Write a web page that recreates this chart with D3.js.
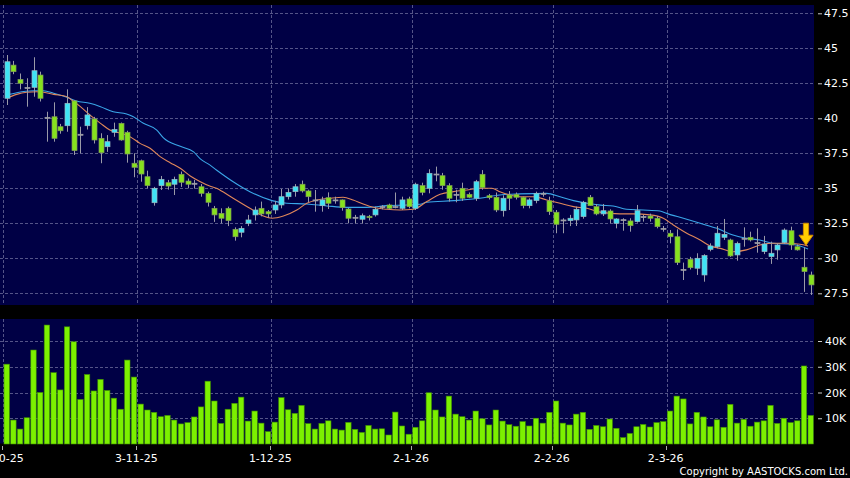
<!DOCTYPE html>
<html><head><meta charset="utf-8">
<script src="https://cdn.jsdelivr.net/npm/d3@7"></script>
<style>html,body{margin:0;padding:0;background:#000;overflow:hidden}svg{display:block}</style>
</head><body>
<svg id="chart" width="850" height="478"></svg>
<script>
// ---- data ----
const openP  = [41.43,43.8,42.78,42.2,42.21,43.09,40.07,40.11,39.4,39.47,41.24,38.86,39.47,39.95,38.57,37.97,39.0,39.64,39.0,36.79,
36.97,35.83,33.97,35.19,35.4,35.29,36.0,35.52,35.36,35.11,34.64,33.57,33.21,33.57,32.07,31.86,32.5,33.1,33.57,33.33,
33.45,33.81,34.4,34.76,35.29,34.81,34.17,33.76,34.33,34.17,34.17,33.52,32.93,32.79,33.0,33.1,33.69,33.81,33.69,33.57,
34.24,33.57,35.19,35.0,36.02,35.9,35.19,34.57,35.0,34.57,34.29,36.0,34.47,34.36,33.4,34.52,34.57,34.36,33.76,34.12,
34.64,34.1,33.29,32.74,32.69,32.74,32.98,34.36,33.69,33.17,33.38,32.5,32.76,32.67,32.62,32.98,33.02,32.86,32.14,31.79,
31.54,29.21,29.93,29.29,28.81,30.64,30.83,31.5,31.31,30.24,31.43,31.5,31.12,30.48,30.12,30.6,31.12,31.97,30.83,29.36,28.81];
const highP  = [44.52,44.1,43.2,42.86,44.36,43.33,40.47,41.14,39.6,42.07,41.3,39.4,40.8,40.1,38.93,38.8,39.69,39.7,39.11,37.5,
37.05,36.26,35.1,35.88,35.6,35.83,36.2,35.7,35.6,35.3,34.76,33.74,33.57,33.69,32.21,32.3,33.1,33.7,34.05,33.45,
34.1,34.95,35.0,35.3,35.55,34.9,34.88,34.4,34.71,34.4,34.2,33.6,33.1,33.2,33.1,33.69,33.8,33.9,34.7,34.4,
34.4,35.4,35.4,36.36,36.55,36.1,35.36,34.9,35.4,34.7,35.6,36.3,34.6,34.7,34.5,34.8,34.7,34.4,34.29,34.76,
34.76,34.4,33.45,32.86,33.1,33.69,34.1,34.52,33.88,33.88,33.5,32.86,32.86,32.86,33.81,33.1,33.19,33.02,32.31,32.02,
32.07,29.69,30.1,30.36,30.29,31.07,32.31,32.81,31.4,31.19,32.21,31.9,32.14,31.6,31.19,31.07,32.14,32.26,30.99,30.79,29.05];
const lowP   = [40.95,43.15,42.07,40.83,41.54,41.2,38.33,38.33,38.9,39.04,37.38,37.5,39.2,38.2,36.79,37.6,38.68,38.4,36.83,35.79,
35.47,35.0,33.76,34.88,34.9,34.52,35.1,35.0,34.98,34.4,33.7,32.6,32.5,32.3,31.26,31.5,32.3,32.7,33.0,32.9,
33.17,33.57,34.2,34.4,34.7,34.0,33.33,33.33,33.52,33.9,33.4,32.5,32.5,32.5,32.7,32.98,33.5,33.5,33.57,33.45,
33.57,33.45,34.5,34.64,35.5,34.9,34.05,34.0,34.1,34.3,34.1,34.9,34.2,33.3,32.98,33.45,34.2,33.57,33.57,33.93,
34.4,33.1,31.79,31.79,32.3,32.31,32.83,33.76,33.07,33.02,32.5,32.14,31.97,31.9,32.55,32.62,32.62,32.14,31.9,31.07,
29.52,28.45,29.2,28.81,28.33,30.5,30.71,31.31,30.1,29.83,30.83,31.2,30.4,30.3,29.6,29.9,31.02,30.6,30.55,27.6,27.38];
const closeP = [44.04,43.33,42.5,42.2,43.4,41.43,40.07,38.57,39.11,41.07,37.69,38.86,40.24,38.45,37.54,38.33,39.2,38.45,37.45,36.5,
36.02,35.19,35.0,35.64,35.16,35.64,35.43,35.29,35.36,34.64,34.0,33.1,32.86,32.69,31.54,32.14,32.74,33.45,33.17,33.17,
33.81,34.4,34.71,35.11,34.81,34.4,34.17,34.17,33.93,34.17,33.62,32.86,32.93,33.04,32.9,33.5,33.69,33.57,33.69,34.17,
33.69,35.29,34.71,36.07,36.02,35.19,34.29,34.57,34.29,34.36,35.47,35.05,34.33,33.45,34.29,34.29,34.36,33.76,34.17,34.64,
34.64,33.33,32.43,32.74,32.86,33.5,34.0,33.76,33.17,33.4,32.81,32.81,32.76,32.33,33.4,32.98,32.86,32.26,32.14,31.54,
29.69,29.21,29.33,30.0,30.19,30.88,31.79,31.71,30.17,31.07,31.43,31.31,31.12,31.02,30.36,30.95,32.02,30.95,30.6,29.05,28.1];
const volumeK = [31.0,9.3,5.8,10.2,36.5,20.0,46.2,27.7,21.0,45.5,39.7,17.3,27.0,20.6,25.1,20.8,17.8,13.5,32.6,26.0,
15.5,13.2,12.3,10.6,11.1,9.3,7.8,8.3,10.5,14.4,24.4,16.7,8.0,13.5,15.8,18.2,8.9,12.8,8.1,4.8,
8.5,18.0,13.3,11.9,15.0,7.9,5.8,8.0,9.0,5.8,5.4,8.4,5.7,4.5,7.2,5.8,5.9,3.5,12.4,7.0,
3.8,6.5,9.0,19.9,13.2,10.5,18.6,11.6,10.6,9.3,12.8,9.8,7.4,13.2,8.9,7.5,6.9,8.7,7.0,10.0,
8.1,12.3,16.7,8.1,7.4,11.6,12.3,5.7,7.2,6.7,9.7,6.1,2.5,4.1,6.7,7.6,6.6,8.3,8.7,12.8,
18.6,17.5,7.8,12.3,10.5,6.7,9.4,6.5,15.4,8.1,9.6,6.9,8.5,9.0,15.0,8.0,10.0,8.3,9.0,30.3,11.1];
// moving averages: [bar index, value]
const maShort = [[0,41.43],[1.5,41.71],[3,41.86],[4.5,41.9],[5.5,41.86],[7,41.71],[9,41.54],[9.7,41.31],[11,40.83],[12.4,40.24],
[14,39.64],[15.4,39.16],[17,38.93],[18.4,38.69],[19.9,38.21],[21.4,37.86],[22.9,37.26],[24.4,36.83],[25.9,36.43],[27.4,35.88],
[28.9,35.47],[30.3,35.16],[31.3,35.0],[31.8,34.88],[33.8,34.29],[36.3,33.57],[38.3,33.02],[39.6,32.86],[41.3,33.02],[43.3,33.45],
[44.8,33.93],[46.3,34.17],[48.3,34.29],[50.2,34.36],[51.7,34.17],[53.2,33.88],[54.7,33.64],[56.7,33.5],[58.7,33.45],[60.7,33.5],
[62.7,34.05],[64.7,34.57],[66.7,34.76],[68.7,34.88],[70.6,35.0],[72.4,35.0],[73.6,34.76],[75.1,34.52],[76.6,34.4],[78.6,34.4],
[80.6,34.17],[82.6,33.93],[84.6,33.69],[86.6,33.57],[88.6,33.3],[91.5,33.17],[93.5,33.17],[96,33.1],[98,32.86],[99.5,32.38],
[101.5,31.79],[103.5,31.31],[105,30.88],[106.5,30.71],[108.4,30.47],[110.4,30.6],[112.4,30.95],[114.4,31.07],[116.4,31.07],[118.4,31.0],[119.6,30.88]];
const maLong = [[0,41.66],[1.5,41.83],[4,41.97],[5.5,41.97],[7,41.79],[9,41.5],[10.4,41.24],[12.4,41.07],[14,40.83],[15.9,40.47],
[17.9,40.31],[18.9,40.11],[20.4,39.64],[22.4,39.16],[23.4,38.6],[25.9,38.0],[27.9,37.6],[28.9,37.1],[30.3,36.67],[31.3,36.31],
[33.8,35.47],[36.3,34.76],[39.6,34.12],[41.8,33.93],[44.8,33.88],[47.8,33.74],[50.7,33.64],[53.7,33.64],[56.7,33.76],[59.7,33.81],
[61.7,33.86],[62.7,34.0],[66.7,34.12],[70.6,34.29],[73.6,34.52],[76.6,34.6],[80.6,34.64],[82.6,34.4],[84.6,34.12],[86.6,33.93],
[88.6,33.8],[90.5,33.74],[92.5,33.5],[95,33.45],[97.5,33.38],[98.5,33.21],[101,32.86],[103.5,32.5],[106,32.14],[108.4,31.66],
[110.4,31.43],[112.4,31.31],[114.4,31.07],[116.9,31.02],[118.4,30.88],[119.6,30.67]];
const priceTicks = [27.5,30,32.5,35,37.5,40,42.5,45,47.5];
const volTicks = [10,20,30,40];
const monthStarts = [0,20,40,61,82,99];
const monthLabels = ["2-10-25","3-11-25","1-12-25","2-1-26","2-2-26","2-3-26"];
const markerIndex = 119;

// ---- drawing ----
const svg = d3.select("#chart");
const W = 850, H = 478;
const panelL = 0, panelR = 814;
const pTop = 5, pBot = 305, vTop = 319, vBot = 443.5;

const x = d3.scaleLinear().domain([0, 120]).range([6.7, 810.7]);
const y = d3.scaleLinear().domain([27.5, 47.5]).range([293.3, 13.3]);
const yv = d3.scaleLinear().domain([0, 40]).range([444, 341]);
const step = x(1) - x(0);

svg.append("rect").attr("width", W).attr("height", H).attr("fill", "#000");
const navy = "#000045";
svg.append("rect").attr("x", panelL).attr("y", pTop).attr("width", panelR - panelL).attr("height", pBot - pTop).attr("fill", navy);
svg.append("rect").attr("x", panelL).attr("y", vTop).attr("width", panelR - panelL).attr("height", vBot - vTop).attr("fill", navy);

const gridCol = "#545488";
const dash = "3,2";
const gx = monthStarts.map(i => x(i) - step / 2);

// price grid
const pg = svg.append("g");
pg.selectAll("line.h").data(priceTicks).join("line")
  .attr("x1", panelL).attr("x2", panelR)
  .attr("y1", d => Math.round(y(d)) + 0.5).attr("y2", d => Math.round(y(d)) + 0.5)
  .attr("stroke", gridCol).attr("stroke-dasharray", dash);
pg.selectAll("line.v").data(gx).join("line")
  .attr("x1", d => Math.round(d) + 0.5).attr("x2", d => Math.round(d) + 0.5)
  .attr("y1", pTop).attr("y2", pBot)
  .attr("stroke", gridCol).attr("stroke-dasharray", dash);

// volume grid
const vg = svg.append("g");
vg.selectAll("line.h").data(volTicks).join("line")
  .attr("x1", panelL).attr("x2", panelR)
  .attr("y1", d => Math.round(yv(d)) + 0.5).attr("y2", d => Math.round(yv(d)) + 0.5)
  .attr("stroke", gridCol).attr("stroke-dasharray", dash);
vg.selectAll("line.v").data(gx).join("line")
  .attr("x1", d => Math.round(d) + 0.5).attr("x2", d => Math.round(d) + 0.5)
  .attr("y1", vTop).attr("y2", vBot)
  .attr("stroke", gridCol).attr("stroke-dasharray", dash);

// right axes
const font = "'DejaVu Sans', Verdana, sans-serif";
const pAxis = d3.axisRight(y).tickValues(priceTicks).tickSize(4).tickPadding(2).tickFormat(d => d);
const pa = svg.append("g").attr("transform", `translate(818,0)`).call(pAxis);
pa.select(".domain").remove();
pa.selectAll("line").attr("stroke", "#cccccc");
pa.selectAll("text").attr("fill", "#ffffff").style("font-family", font).style("font-size", "11px");

const vAxis = d3.axisRight(yv).tickValues(volTicks).tickSize(4).tickPadding(3).tickFormat(d => d + "K");
const va = svg.append("g").attr("transform", `translate(818,0)`).call(vAxis);
va.select(".domain").remove();
va.selectAll("line").attr("stroke", "#cccccc");
va.selectAll("text").attr("fill", "#ffffff").style("font-family", font).style("font-size", "11px");

// bottom date axis
const da = svg.append("g");
da.selectAll("line").data(gx).join("line")
  .attr("x1", d => Math.round(d) - 0.5).attr("x2", d => Math.round(d) - 0.5)
  .attr("y1", 446).attr("y2", 450).attr("stroke", "#aaaaaa");
da.selectAll("text").data(monthLabels).join("text")
  .attr("x", (d, i) => gx[i] - 1).attr("y", 462)
  .attr("text-anchor", "middle").attr("fill", "#ffffff")
  .style("font-family", font).style("font-size", "11px").text(d => d);

svg.append("text").attr("x", 848).attr("y", 475).attr("text-anchor", "end")
  .attr("fill", "#ffffff").style("font-family", font).style("font-size", "10px")
  .text("Copyright by AASTOCKS.com Ltd.");

// volume bars
const bw = 5.4;
svg.append("g").selectAll("rect").data(volumeK).join("rect")
  .attr("x", (d, i) => x(i) - bw / 2).attr("width", bw)
  .attr("y", d => yv(d)).attr("height", d => yv(0) - yv(d))
  .attr("fill", "#7cf000").attr("stroke", "#3f8f00").attr("stroke-width", 0.6);

// moving averages
const clipId = "pclip";
svg.append("clipPath").attr("id", clipId).append("rect")
  .attr("x", panelL).attr("y", pTop).attr("width", panelR - panelL).attr("height", pBot - pTop);
const line = d3.line().x(d => x(d[0])).y(d => y(d[1])).curve(d3.curveMonotoneX);
svg.append("path").datum(maLong).attr("d", line).attr("fill", "none")
  .attr("stroke", "#3aa6e8").attr("stroke-width", 1.1).attr("clip-path", `url(#${clipId})`);
svg.append("path").datum(maShort).attr("d", line).attr("fill", "none")
  .attr("stroke", "#e0875a").attr("stroke-width", 1.1).attr("clip-path", `url(#${clipId})`);

// candles
const cw = 5;
const candles = d3.range(openP.length).map(i => ({i, o: openP[i], h: highP[i], l: lowP[i], c: closeP[i]}));
const cg = svg.append("g");
cg.selectAll("line.w").data(candles).join("line")
  .attr("x1", d => Math.round(x(d.i)) + 0.5).attr("x2", d => Math.round(x(d.i)) + 0.5)
  .attr("y1", d => y(d.h)).attr("y2", d => y(d.l))
  .attr("stroke", "#9a9aa8").attr("stroke-width", 1);
cg.selectAll("rect.b").data(candles).join("rect")
  .attr("x", d => Math.round(x(d.i)) + 0.5 - cw / 2).attr("width", cw)
  .attr("y", d => y(Math.max(d.o, d.c)))
  .attr("height", d => Math.max(1, Math.abs(y(d.o) - y(d.c))))
  .attr("fill", d => d.c > d.o ? "#3fe3f5" : (d.c < d.o ? "#86e21e" : "#a0a0a8"))
  .attr("stroke", d => d.c > d.o ? "#9ab8c0" : (d.c < d.o ? "#7f9a55" : "#a0a0a8"))
  .attr("stroke-width", 0.7);

// marker arrow above the flagged bar
const ax = x(markerIndex) + 2, ay = y(highP[markerIndex]) - 2;
const arrow = [[ax - 2.6, ay - 22], [ax + 2.6, ay - 22], [ax + 2.6, ay - 10], [ax + 7, ay - 10], [ax, ay], [ax - 7, ay - 10], [ax - 2.6, ay - 10]];
svg.append("polygon").attr("points", arrow.map(p => p.join(",")).join(" "))
  .attr("fill", "#ffcc00").attr("stroke", "#d08a00").attr("stroke-width", 1);
</script>
</body></html>
